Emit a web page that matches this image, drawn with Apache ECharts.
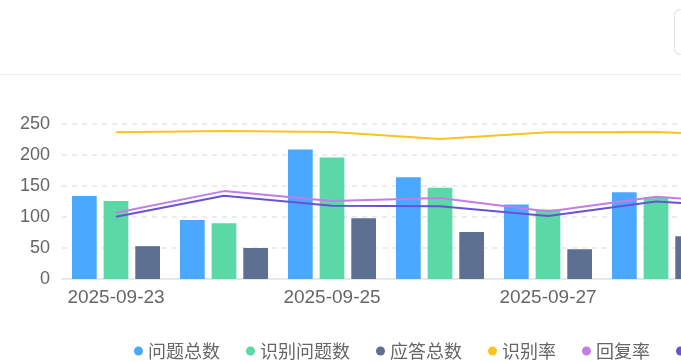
<!DOCTYPE html>
<html>
<head>
<meta charset="utf-8">
<script src="https://cdn.jsdelivr.net/npm/echarts@6/dist/echarts.min.js"></script>
<style>
html,body{margin:0;padding:0;background:#fff;}
#chart{width:681px;height:362px;}
</style>
</head>
<body>
<div id="chart"></div>
<script>
const categories = ['2025-09-23','2025-09-24','2025-09-25','2025-09-26','2025-09-27','2025-09-28','2025-09-29'];
const totalQuestions = [134, 95, 209, 164, 120, 140, 150];
const recognizedQuestions = [126, 90, 196, 147, 112, 132, 139];
const answeredTotal = [53, 50, 98, 76, 48, 69, 68];
const recognitionRate = [94.6, 95.5, 94.8, 90.3, 94.6, 94.8, 92.5];
const replyRate = [42.7, 56.7, 50.4, 52.2, 43.6, 53.0, 48.5];
const answerRate = [40.1, 53.7, 47.2, 46.9, 40.6, 50.0, 45.5];
const yTicks = [0, 50, 100, 150, 200, 250];
const seriesNames = ['问题总数','识别问题数','应答总数','识别率','回复率','应答率'];

const colors = ['#4ba8ff','#5ad8a6','#5d7092','#fac31f','#c57de5','#6a52d4'];
const axisFont = "'Liberation Sans', 'Noto Sans CJK SC', sans-serif";

const chart = echarts.init(document.getElementById('chart'), null, {renderer:'canvas'});
chart.setOption({
  animation: false,
  color: colors,
  graphic: [
    {type:'line', shape:{x1:0,y1:74.5,x2:681,y2:74.5}, style:{stroke:'#ececec', lineWidth:1}},
    {type:'rect', shape:{x:674.5,y:9.5,width:60,height:45,r:6}, style:{fill:'#fff', stroke:'#dcdcdc', lineWidth:1}}
  ],
  legend: {
    data: seriesNames,
    left: 134, top: 342,
    width: 1200,
    padding: 0,
    icon: 'circle',
    itemWidth: 9, itemHeight: 9,
    itemGap: 26,
    textStyle: {fontSize: 18, color: '#666', fontFamily: "'Noto Sans CJK SC', sans-serif"}
  },
  grid: {left: 62, width: 756, top: 124, bottom: 83, containLabel: false, outerBoundsMode: 'none'},
  xAxis: {
    type: 'category',
    data: categories,
    axisLine: {lineStyle: {color: '#e8e8e8', width: 2}},
    axisTick: {show: false},
    axisLabel: {interval: 1, color: '#666', fontSize: 19, margin: 9, fontFamily: axisFont}
  },
  yAxis: [
    {
      type: 'value', min: yTicks[0], max: yTicks[yTicks.length-1], interval: yTicks[1]-yTicks[0],
      axisLine: {show:false}, axisTick: {show:false},
      axisLabel: {color:'#666', fontSize: 18, margin: 12, fontFamily: axisFont},
      splitLine: {lineStyle: {color:'#e6e6e6', type:[5,5], width:1.5}}
    },
    {type:'value', min:0, max:100, show:false, splitLine:{show:false}}
  ],
  series: [
    {name: seriesNames[0], type:'bar', data: totalQuestions, barGap:'28%', barCategoryGap:'18.5%'},
    {name: seriesNames[1], type:'bar', data: recognizedQuestions, barGap:'28%', barCategoryGap:'18.5%'},
    {name: seriesNames[2], type:'bar', data: answeredTotal, barGap:'28%', barCategoryGap:'18.5%'},
    {name: seriesNames[3], type:'line', yAxisIndex:1, data: recognitionRate, showSymbol:false, symbol:'circle', lineStyle:{width:2}},
    {name: seriesNames[4], type:'line', yAxisIndex:1, data: replyRate, showSymbol:false, symbol:'circle', lineStyle:{width:2}},
    {name: seriesNames[5], type:'line', yAxisIndex:1, data: answerRate, showSymbol:false, symbol:'circle', lineStyle:{width:2}}
  ]
});
</script>
</body>
</html>
